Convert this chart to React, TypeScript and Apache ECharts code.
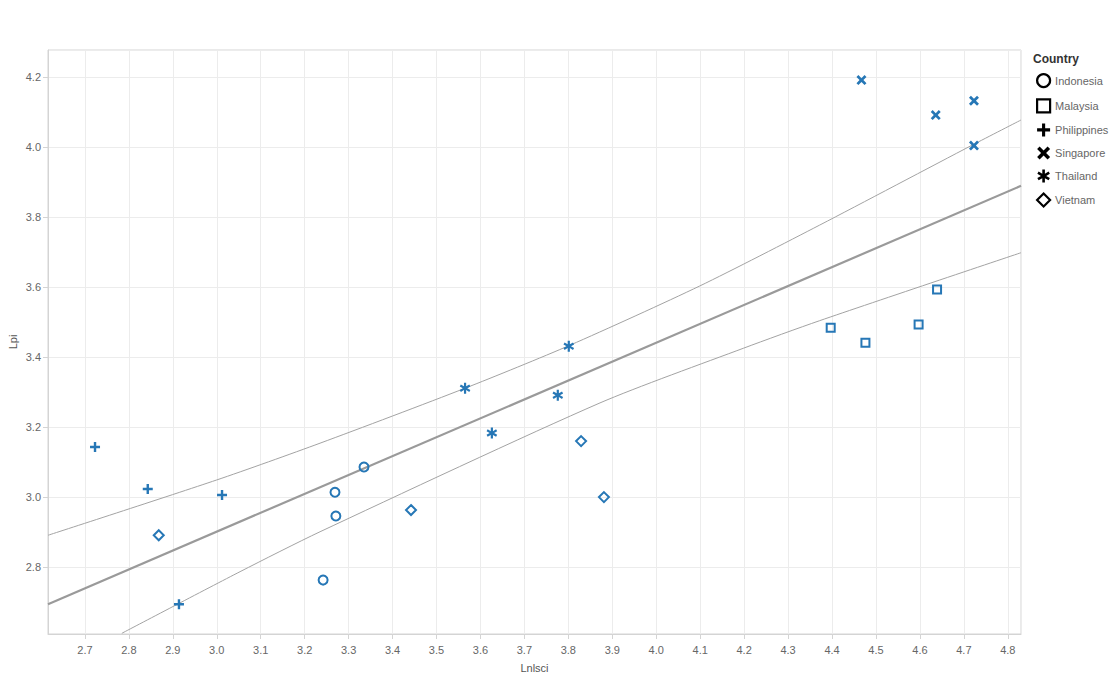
import React, { useEffect, useRef } from "react";
import * as echarts from "echarts";

// ---- data ----
const countries = ["Indonesia", "Malaysia", "Philippines", "Singapore", "Thailand", "Vietnam"];

const indonesia: number[][] = [[3.242, 2.763], [3.269, 3.014], [3.271, 2.946], [3.335, 3.086]];
const malaysia: number[][] = [[4.397, 3.484], [4.476, 3.441], [4.597, 3.493], [4.639, 3.593]];
const philippines: number[][] = [[2.723, 3.143], [2.843, 3.023], [3.012, 3.006], [2.914, 2.694]];
const singapore: number[][] = [[4.467, 4.191], [4.636, 4.091], [4.723, 4.132], [4.723, 4.004]];
const thailand: number[][] = [[3.565, 3.311], [3.626, 3.183], [3.776, 3.291], [3.801, 3.431]];
const vietnam: number[][] = [[2.868, 2.891], [3.442, 2.963], [3.829, 3.16], [3.881, 3.0]];

const trendLine: number[][] = [[2.616, 2.694], [4.83, 3.889]];
const upperBand: number[][] = [
  [2.616, 2.891], [3.0, 3.049], [3.235, 3.154], [3.565, 3.311], [3.804, 3.434],
  [4.099, 3.603], [4.372, 3.777], [4.72, 4.006], [4.83, 4.077],
];
const lowerBand: number[][] = [
  [2.784, 2.611], [3.053, 2.787], [3.235, 2.901], [3.872, 3.269],
  [4.198, 3.425], [4.372, 3.504], [4.83, 3.698],
];

const xRange = [2.616, 4.83];
const yRange = [2.609, 4.277];

// ---- styles ----
const BLUE = "#2677b6";
const FONT = 'Arial, "Liberation Sans", sans-serif';

function starPath(n: number, startDeg: number, R: number, w: number): string {
  const step = (2 * Math.PI) / n;
  const pts: number[][] = [];
  const c = 20;
  for (let k = 0; k < n; k++) {
    const a = (startDeg * Math.PI) / 180 + k * step;
    const dx = Math.cos(a), dy = Math.sin(a);
    const px = -Math.sin(a), py = Math.cos(a);
    pts.push([R * dx - w * px, R * dy - w * py]);
    pts.push([R * dx + w * px, R * dy + w * py]);
    const b = a + step / 2;
    const r = w / Math.sin(step / 2);
    pts.push([r * Math.cos(b), r * Math.sin(b)]);
  }
  return (
    "path://M" +
    pts.map((p) => (c + p[0]).toFixed(3) + "," + (c - p[1]).toFixed(3)).join("L") +
    "Z"
  );
}

const PLUS = starPath(4, 0, 10, 2.4);
const CROSS = starPath(4, 45, 10, 2.4);
const STAR = starPath(6, 90, 10, 2.0);

const symbolFor: Record<string, { symbol: string; size: number; hollow: boolean }> = {
  Indonesia: { symbol: "circle", size: 9, hollow: true },
  Malaysia: { symbol: "rect", size: 8, hollow: true },
  Philippines: { symbol: PLUS, size: 10, hollow: false },
  Singapore: { symbol: CROSS, size: 10, hollow: false },
  Thailand: { symbol: STAR, size: 11, hollow: false },
  Vietnam: { symbol: "diamond", size: 10, hollow: true },
};

const dataFor: Record<string, number[][]> = {
  Indonesia: indonesia,
  Malaysia: malaysia,
  Philippines: philippines,
  Singapore: singapore,
  Thailand: thailand,
  Vietnam: vietnam,
};

export default function App() {
  const ref = useRef<HTMLDivElement>(null);

  useEffect(() => {
    if (!ref.current) return;
    const chart = echarts.init(ref.current, null, { renderer: "svg" });

    const scatterSeries = countries.map((name) => {
      const s = symbolFor[name];
      return {
        name,
        type: "scatter",
        data: dataFor[name],
        symbol: s.symbol,
        symbolSize: s.size,
        symbolKeepAspect: true,
        z: 5,
        itemStyle: s.hollow
          ? { color: "rgba(255,255,255,0)", borderColor: BLUE, borderWidth: 2, opacity: 1 }
          : { color: BLUE, borderWidth: 0, opacity: 1 },
        emphasis: { disabled: true },
      };
    });

    const lineBase = {
      type: "line",
      showSymbol: false,
      symbol: "none",
      silent: true,
      clip: true,
      z: 2,
    };

    chart.setOption({
      animation: false,
      textStyle: { fontFamily: FONT },
      grid: {
        left: 48,
        right: 94,
        top: 50,
        bottom: 40,
        outerBoundsMode: "none",
        containLabel: false,
        show: true,
        borderColor: "#d4d4d4",
        borderWidth: 1,
        backgroundColor: "transparent",
      },
      graphic: [
        {
          type: "text",
          left: 1033,
          top: 53,
          style: {
            text: "Country",
            fontFamily: FONT,
            fontSize: 12,
            fontWeight: "bold",
            fill: "#333",
          },
        },
      ],
      legend: {
        orient: "vertical",
        left: 1036,
        top: 73,
        padding: 0,
        itemWidth: 13,
        itemHeight: 13,
        itemGap: 10,
        selectedMode: false,
        textStyle: { fontFamily: FONT, fontSize: 11, color: "#666" },
        data: countries.map((name) => {
          const s = symbolFor[name];
          return {
            name,
            icon: s.symbol,
            itemStyle: s.hollow
              ? { color: "#fff", borderColor: "#000", borderWidth: 2.2 }
              : { color: "#000", borderWidth: 0 },
          };
        }),
      },
      xAxis: {
        type: "value",
        min: xRange[0],
        max: xRange[1],
        splitNumber: 22,
        minInterval: 0.1,
        maxInterval: 0.1,
        name: "Lnlsci",
        nameLocation: "middle",
        nameGap: 28,
        nameMoveOverlap: false,
        nameTextStyle: { fontFamily: FONT, fontSize: 11, color: "#555" },
        axisLine: { show: true, lineStyle: { color: "#d4d4d4" } },
        axisTick: { show: true, length: 5, lineStyle: { color: "#d4d4d4" } },
        axisLabel: {
          showMinLabel: false,
          showMaxLabel: false,
          margin: 10,
          fontFamily: FONT,
          fontSize: 11,
          color: "#666",
          formatter: (v: number) => v.toFixed(1),
        },
        splitLine: { show: true, lineStyle: { color: "#ececec", width: 1 } },
      },
      yAxis: {
        type: "value",
        min: yRange[0],
        max: yRange[1],
        splitNumber: 8,
        minInterval: 0.2,
        maxInterval: 0.2,
        name: "Lpi",
        nameLocation: "middle",
        nameRotate: 90,
        nameGap: 30,
        nameMoveOverlap: false,
        nameTextStyle: { fontFamily: FONT, fontSize: 11, color: "#555" },
        axisLine: { show: true, lineStyle: { color: "#d4d4d4" } },
        axisTick: { show: true, length: 5, lineStyle: { color: "#d4d4d4" } },
        axisLabel: {
          showMinLabel: false,
          showMaxLabel: false,
          margin: 7,
          fontFamily: FONT,
          fontSize: 11,
          color: "#666",
          formatter: (v: number) => v.toFixed(1),
        },
        splitLine: { show: true, lineStyle: { color: "#ececec", width: 1 } },
      },
      series: [
        {
          ...lineBase,
          name: "trend",
          data: trendLine,
          lineStyle: { color: "#9a9a9a", width: 2.2 },
        },
        {
          ...lineBase,
          name: "upper",
          data: upperBand,
          smooth: 0.25,
          lineStyle: { color: "#a3a3a3", width: 1 },
        },
        {
          ...lineBase,
          name: "lower",
          data: lowerBand,
          smooth: 0.25,
          lineStyle: { color: "#a3a3a3", width: 1 },
        },
        ...scatterSeries,
      ],
    });

    return () => chart.dispose();
  }, []);

  return (
    <div
      ref={ref}
      style={{ position: "absolute", left: 0, top: 0, width: 1115, height: 674, background: "#fff" }}
    />
  );
}
